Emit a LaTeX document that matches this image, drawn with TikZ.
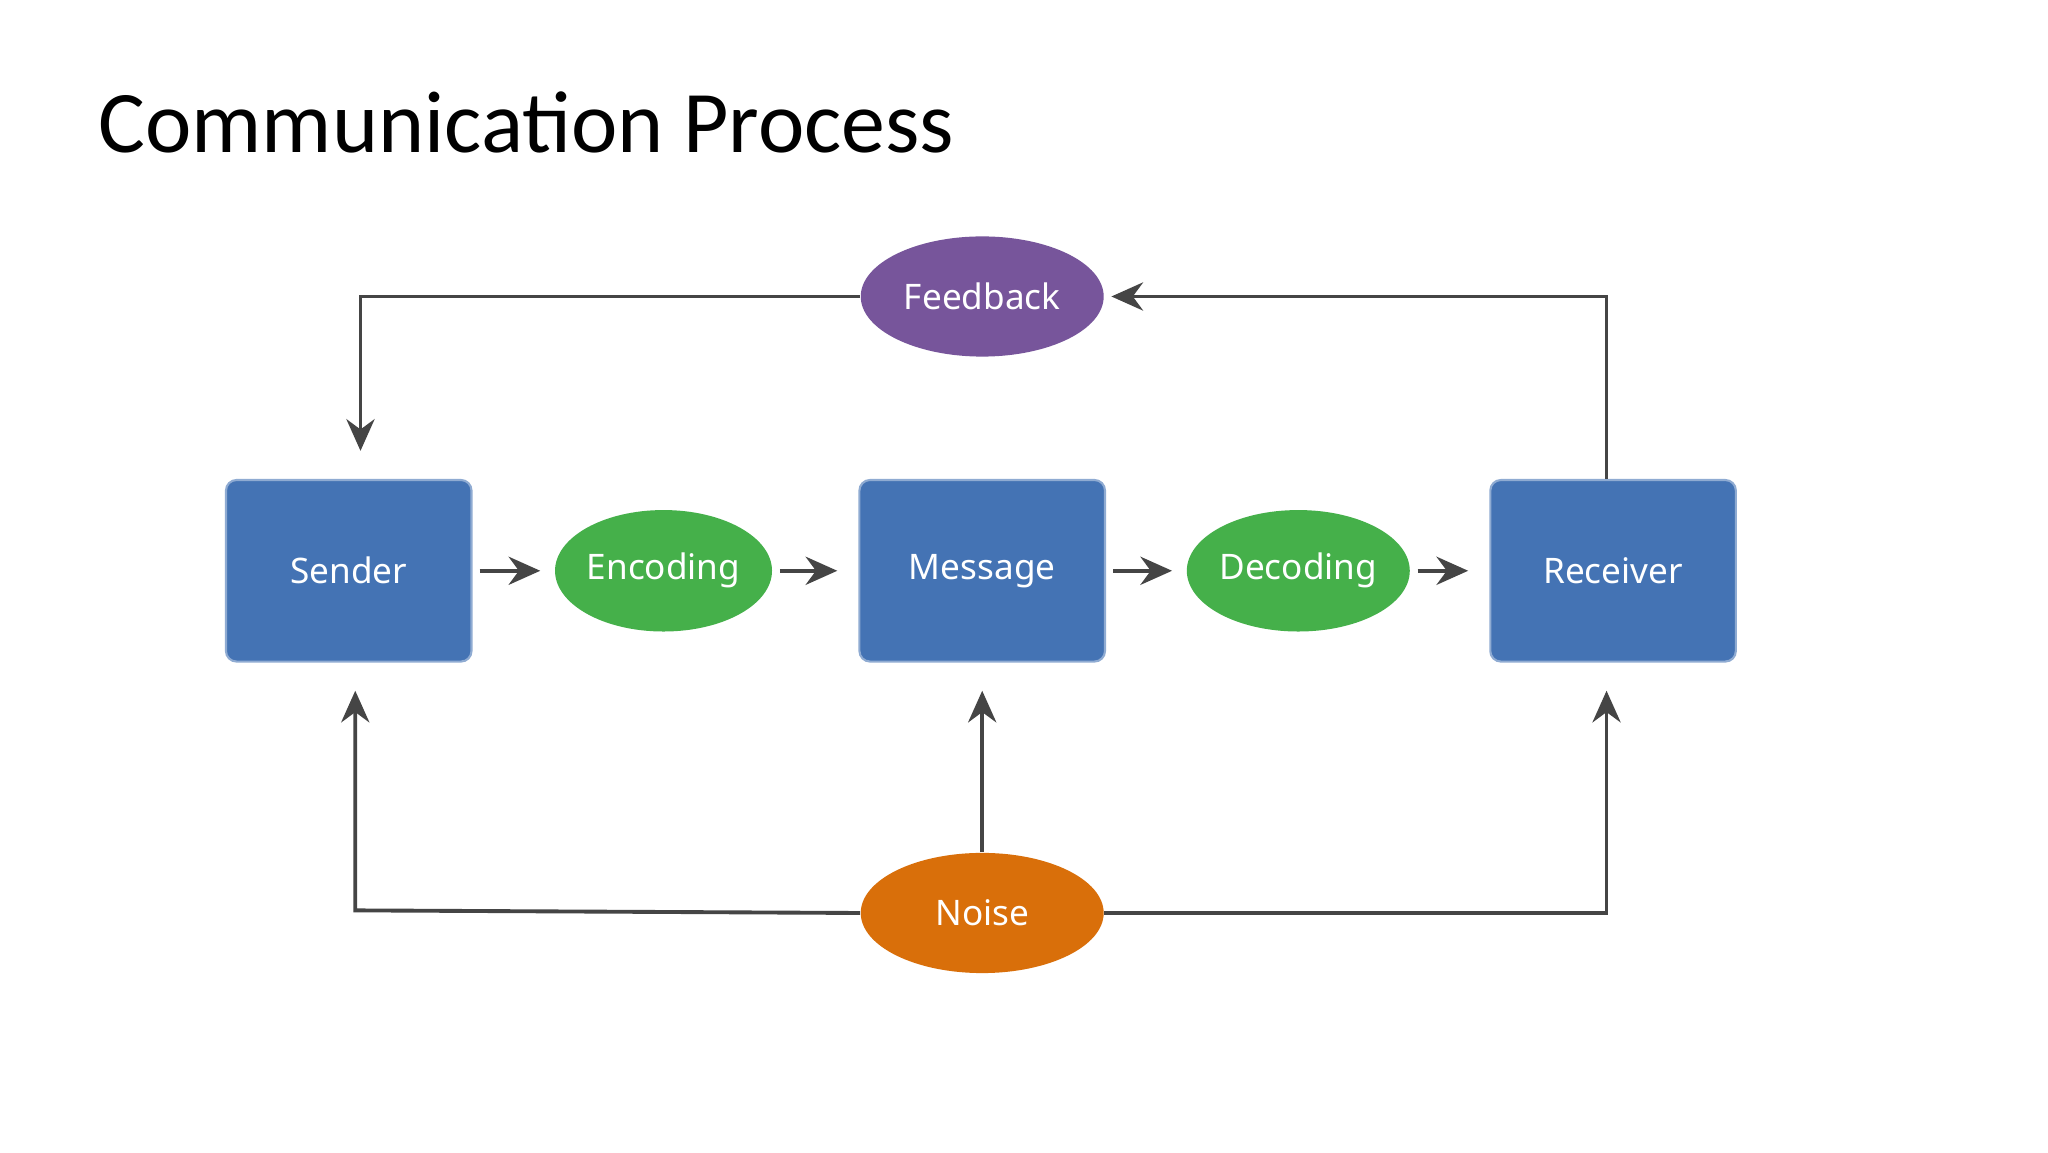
\documentclass[tikz,border=0pt]{standalone}
\usepackage{fontspec}
\setmainfont{Carlito}
\newfontfamily\lab{Noto Sans}
\usetikzlibrary{shapes.geometric,arrows.meta}
\definecolor{bx}{HTML}{4473B4}
\definecolor{gr}{HTML}{45B04A}
\definecolor{pu}{HTML}{77559B}
\definecolor{orn}{HTML}{D96F0A}
\definecolor{ln}{HTML}{454545}
\begin{document}
\begin{tikzpicture}[x=0.1306mm,y=-0.1306mm,
  box/.style={draw=bx!60,line width=0.6pt,fill=bx,rounded corners=3pt,minimum width=188*0.1306mm,minimum height=139*0.1306mm,text=white,font=\lab\fontsize{10}{12}\selectfont},
  ell/.style={ellipse,fill=#1,minimum width=150*0.1306mm,minimum height=93*0.1306mm,inner sep=0pt,text=white,font=\lab\fontsize{10}{12}\selectfont},
  big/.style={ell=#1,minimum width=186*0.1306mm,minimum height=92*0.1306mm},
  arr/.style={draw=ln,line width=1.1pt,-{Stealth[length=9pt,width=8pt]}},
  ln/.style={draw=ln,line width=1.1pt}]
\useasboundingbox[fill=white] (0,0) rectangle (1568,882);
\node[anchor=base west,font=\fontsize{25}{30}\selectfont] (title) at (66,117) {Communication Process};
\node[box] (snd) at (267,437) {Sender};
\node[box] (msg) at (752,437) {Message};
\node[box] (rcv) at (1235,437) {Receiver};
\node[ell=gr] (enc) at (508,437) {Encoding};
\node[ell=gr] (dec) at (994,437) {Decoding};
\node[big=pu] (fb) at (752,227) {Feedback};
\node[big=orn] (noi) at (752,699) {Noise};
\draw[arr,shorten <=2pt,shorten >=4pt] (snd) -- (enc);
\draw[arr,shorten <=2pt,shorten >=6pt] (enc) -- (msg);
\draw[arr,shorten <=2pt,shorten >=4pt] (msg) -- (dec);
\draw[arr,shorten <=2pt,shorten >=6pt] (dec) -- (rcv);
\coordinate (c1) at (1230,227);
\coordinate (c2) at (276,227);
\coordinate (c3) at (272,697);
\coordinate (c4) at (1230,699);
\draw[arr,shorten >=2pt] (rcv.north -| c1) -- (c1) -- (fb.east);
\draw[arr,shorten >=8pt] (fb.west) -- (c2) -- (c2 |- snd.north);
\draw[arr,shorten >=8pt] (noi.west) -- (c3) -- (c3 |- snd.south);
\draw[arr,shorten >=8pt] (noi.north) -- (msg.south);
\draw[arr,shorten >=8pt] (noi.east) -- (c4) -- (c4 |- rcv.south);
\end{tikzpicture}
\end{document}
